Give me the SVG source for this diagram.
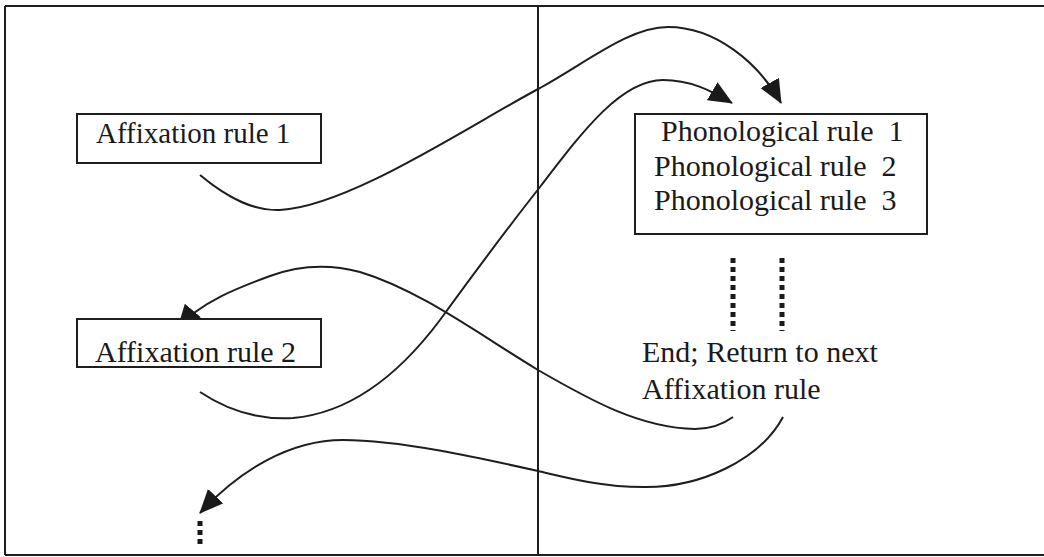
<svg xmlns="http://www.w3.org/2000/svg" width="1044" height="557" viewBox="0 0 1044 557">
  <style>
    .frame { stroke: #1e1e1e; stroke-width: 2; fill: none; }
    .box { fill: #ffffff; stroke: #1e1e1e; stroke-width: 2; }
    .label { font-family: "Liberation Serif", "Times New Roman", serif; font-size: 30px; fill: #1a1a1a; white-space: pre; }
    .small { font-size: 29px; }
    .link { fill: none; stroke: #1e1e1e; stroke-width: 2; }
    .dots { fill: none; stroke: #1a1a1a; stroke-width: 5; stroke-dasharray: 5 4; }
  </style>
  <defs>
    <marker id="head" markerUnits="userSpaceOnUse" markerWidth="26" markerHeight="22" refX="23" refY="10.5" orient="auto">
      <path d="M0,0 L24,10.5 L0,21 Z" fill="#1a1a1a"/>
    </marker>
  </defs>
  <rect width="1044" height="557" fill="#ffffff"/>

  <!-- page frame and column divider -->
  <g id="frame">
    <path class="frame" d="M5,6 H1044 M5,6 V555 M5,555 H1044 M538,6 V555"/>
  </g>

  <!-- connectors (drawn under the boxes) -->
  <g id="connectors">
    <path class="link" marker-end="url(#head)" d="M200,175 C230,200 255,211 280,210 C350,206 470,125 540,88 C590,60 630,27 668,27 C715,27 758,62 781,103"/>
    <path class="link" marker-end="url(#head)" d="M200,392 C230,412 260,420 293,418 C360,412 410,360 440,320 C480,265 510,225 540,187 C580,135 620,80 663,80 C690,80 710,90 732,103"/>
    <path class="link" marker-end="url(#head)" d="M733,417 C722,425 710,429 695,429 C640,428 590,400 538,370 C480,335 420,290 360,272 C330,264 300,265 270,276 C240,287 200,302 178,328"/>
    <path class="link" marker-end="url(#head)" d="M783,417 C760,460 700,488 643,487 C600,487 560,476 538,471 C480,458 400,440 343,440 C290,440 240,470 200,513"/>
  </g>

  <!-- rule boxes -->
  <g id="affixation-rule-1">
    <rect class="box" x="77" y="114" width="244" height="49"/>
    <text class="label small" x="96" y="143">Affixation rule 1</text>
  </g>

  <g id="affixation-rule-2">
    <rect class="box" x="77" y="319" width="244" height="48"/>
    <text class="label" x="95" y="362">Affixation rule 2</text>
  </g>

  <g id="phonological-rules">
    <rect class="box" x="635" y="114" width="292" height="120"/>
    <text class="label" x="661" y="141" xml:space="preserve">Phonological rule  1</text>
    <text class="label" x="654" y="176" xml:space="preserve">Phonological rule  2</text>
    <text class="label" x="654" y="210" xml:space="preserve">Phonological rule  3</text>
  </g>

  <g id="continuation">
    <path class="dots" d="M733,258 V331 M782,258 V331"/>
  </g>

  <g id="end-return">
    <text class="label" x="642" y="362">End; Return to next</text>
    <text class="label" x="642" y="399">Affixation rule</text>
  </g>

  <g id="more-rules">
    <path class="dots" d="M200,521 V547"/>
  </g>
</svg>
